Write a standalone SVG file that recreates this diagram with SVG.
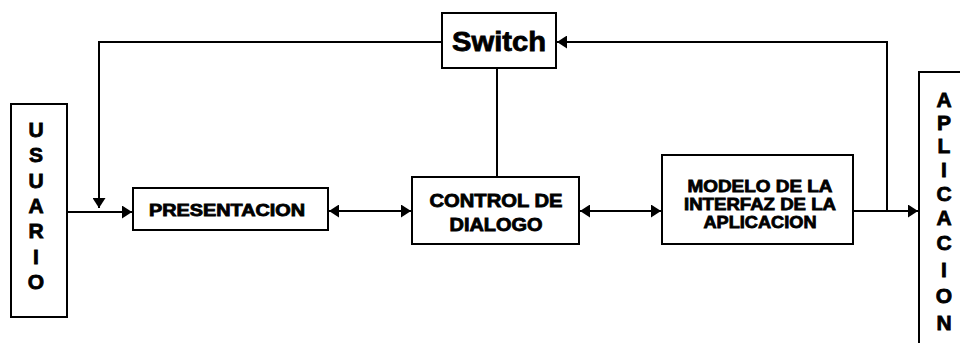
<svg xmlns="http://www.w3.org/2000/svg" width="960" height="343" viewBox="0 0 960 343">
  <style>
    .box { fill: #fff; stroke: #000; stroke-width: 2; }
    .wire { fill: none; stroke: #000; stroke-width: 2; }
    .lbl { font-family: "Liberation Sans", Arial, sans-serif; font-weight: bold; fill: #000; stroke: #000; stroke-width: 0.8; text-anchor: middle; }
    .vert { font-size: 21px; }
    .mid { font-size: 18px; }
    .tight { font-size: 17px; }
  </style>
  <defs>
    <marker id="head" markerUnits="userSpaceOnUse" markerWidth="11" markerHeight="13" refX="10" refY="6.5" orient="auto-start-reverse">
      <path d="M0,0 L10,6.5 L0,13 Z" fill="#000"/>
    </marker>
  </defs>

  <rect width="960" height="343" fill="#fff"/>

  <!-- connectors -->
  <g id="connectors">
    <!-- Switch feedback to the presentation input -->
    <polyline class="wire" points="442,42 99,42 99,208" marker-end="url(#head)"/>
    <!-- user input into presentation -->
    <line class="wire" x1="67" y1="212" x2="132" y2="212" marker-end="url(#head)"/>
    <!-- presentation <-> dialogue control -->
    <line class="wire" x1="329" y1="211" x2="411" y2="211" marker-start="url(#head)" marker-end="url(#head)"/>
    <!-- dialogue control <-> interface model -->
    <line class="wire" x1="580" y1="211" x2="661" y2="211" marker-start="url(#head)" marker-end="url(#head)"/>
    <!-- interface model to application -->
    <line class="wire" x1="854" y1="211" x2="918" y2="211" marker-end="url(#head)"/>
    <!-- application side feedback to the switch -->
    <polyline class="wire" points="887,211 887,42 557,42" marker-end="url(#head)"/>
    <!-- switch to dialogue control -->
    <line class="wire" x1="497" y1="69" x2="497" y2="177"/>
  </g>

  <g id="usuario">
    <rect class="box" x="11" y="104" width="56" height="213"/>
    <g class="lbl vert">
      <text x="36" y="137">U</text>
      <text x="36" y="162">S</text>
      <text x="36" y="188">U</text>
      <text x="36" y="213">A</text>
      <text x="36" y="238">R</text>
      <text x="36" y="264">I</text>
      <text x="36" y="289">O</text>
    </g>
  </g>

  <g id="switch">
    <rect class="box" x="442" y="13" width="114" height="55"/>
    <text class="lbl" x="499" y="51" font-size="28" textLength="94" lengthAdjust="spacingAndGlyphs">Switch</text>
  </g>

  <g id="presentacion">
    <rect class="box" x="133" y="188" width="195" height="42"/>
    <text class="lbl" x="227" y="216" font-size="16" textLength="156" lengthAdjust="spacingAndGlyphs">PRESENTACION</text>
  </g>

  <g id="control">
    <rect class="box" x="412" y="177" width="167" height="67"/>
    <text class="lbl mid" x="496" y="207" textLength="133" lengthAdjust="spacingAndGlyphs">CONTROL DE</text>
    <text class="lbl mid" x="496" y="231" textLength="93" lengthAdjust="spacingAndGlyphs">DIALOGO</text>
  </g>

  <g id="modelo">
    <rect class="box" x="662" y="155" width="191" height="89"/>
    <text class="lbl tight" x="760" y="192" textLength="145" lengthAdjust="spacingAndGlyphs">MODELO DE LA</text>
    <text class="lbl tight" x="760" y="210" textLength="152" lengthAdjust="spacingAndGlyphs">INTERFAZ DE LA</text>
    <text class="lbl tight" x="760" y="228" textLength="113" lengthAdjust="spacingAndGlyphs">APLICACION</text>
  </g>

  <g id="aplicacion">
    <rect class="box" x="919" y="72" width="60" height="290"/>
    <g class="lbl vert">
      <text x="944" y="107">A</text>
      <text x="944" y="130">P</text>
      <text x="944" y="153">L</text>
      <text x="944" y="177">I</text>
      <text x="944" y="201">C</text>
      <text x="944" y="225">A</text>
      <text x="944" y="250">C</text>
      <text x="944" y="277">I</text>
      <text x="944" y="303">O</text>
      <text x="944" y="330">N</text>
    </g>
  </g>
</svg>
